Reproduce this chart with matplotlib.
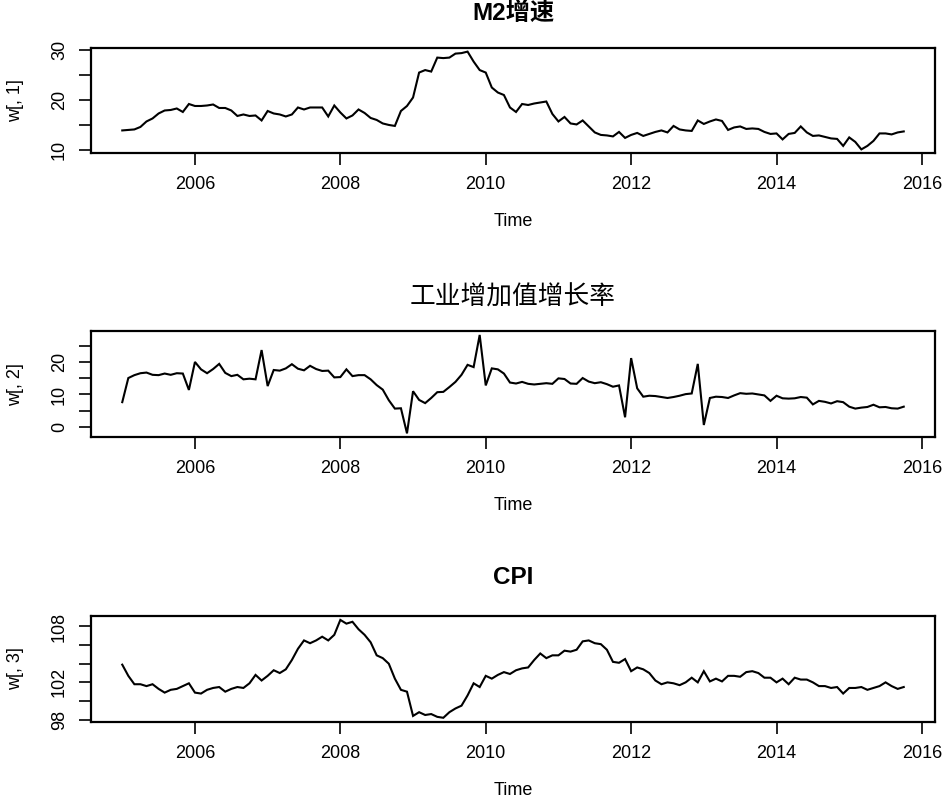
import numpy as np
import matplotlib
matplotlib.use("Agg")
import matplotlib.pyplot as plt

plt.rcParams['font.family'] = ['Liberation Sans', 'Noto Sans CJK SC', 'DejaVu Sans']

# ---- data (monthly, time axis starts 2005.0, frequency 12) ----
start_year = 2005
freq = 12

m2 = [13.9, 14.0, 14.1, 14.6, 15.7, 16.3, 17.3, 17.9, 18.0, 18.3, 17.6,
      19.2, 18.8, 18.8, 18.9, 19.1, 18.4, 18.4, 17.9, 16.8, 17.1, 16.8, 16.9,
      15.9, 17.8, 17.3, 17.1, 16.7, 17.1, 18.5, 18.1, 18.5, 18.5, 18.5, 16.7,
      18.9, 17.5, 16.3, 16.9, 18.1, 17.4, 16.4, 16.0, 15.3, 15.0, 14.8, 17.8,
      18.8, 20.5, 25.5, 26.0, 25.7, 28.5, 28.4, 28.5, 29.3, 29.4, 29.7, 27.7,
      26.0, 25.5, 22.5, 21.5, 21.0, 18.5, 17.6, 19.2, 19.0, 19.3, 19.5, 19.7,
      17.2, 15.7, 16.6, 15.3, 15.1, 15.9, 14.7, 13.5, 13.0, 12.9, 12.7, 13.6,
      12.4, 13.0, 13.4, 12.8, 13.2, 13.6, 13.9, 13.5, 14.8, 14.1, 13.9, 13.8,
      15.9, 15.2, 15.7, 16.1, 15.8, 14.0, 14.5, 14.7, 14.2, 14.3, 14.2, 13.6,
      13.2, 13.3, 12.1, 13.2, 13.4, 14.7, 13.5, 12.8, 12.9, 12.6, 12.3, 12.2,
      10.8, 12.5, 11.6, 10.1, 10.8, 11.8, 13.3, 13.3, 13.1, 13.5, 13.7]

iva = [7.6, 15.1, 16.0, 16.6, 16.8, 16.1, 16.0, 16.5, 16.1, 16.6, 16.5,
       11.4, 20.1, 17.8, 16.6, 17.9, 19.5, 16.7, 15.7, 16.1, 14.7, 14.9, 14.7,
       23.8, 12.6, 17.6, 17.4, 18.1, 19.4, 18.0, 17.5, 18.9, 17.9, 17.3, 17.4,
       15.3, 15.4, 17.8, 15.7, 16.0, 16.0, 14.7, 12.9, 11.5, 8.2, 5.6, 5.7,
       -2.1, 11.0, 8.3, 7.3, 8.9, 10.7, 10.8, 12.3, 13.9, 16.1, 19.2, 18.5,
       28.5, 12.8, 18.1, 17.8, 16.5, 13.7, 13.4, 13.9, 13.3, 13.1, 13.3, 13.5,
       13.3, 15.0, 14.8, 13.4, 13.3, 15.1, 14.0, 13.5, 13.8, 13.2, 12.4, 12.8,
       2.9, 21.3, 11.9, 9.3, 9.6, 9.5, 9.2, 8.9, 9.2, 9.6, 10.1, 10.3,
       19.5, 0.5, 8.9, 9.3, 9.2, 8.9, 9.7, 10.4, 10.2, 10.3, 10.0, 9.7,
       8.0, 9.6, 8.8, 8.7, 8.8, 9.2, 9.0, 6.9, 8.0, 7.7, 7.2, 7.9,
       7.6, 6.2, 5.6, 5.9, 6.1, 6.8, 6.0, 6.1, 5.7, 5.6, 6.2]

cpi = [103.9, 102.7, 101.8, 101.8, 101.6, 101.8, 101.3, 100.9, 101.2, 101.3, 101.6,
       101.9, 100.9, 100.8, 101.2, 101.4, 101.5, 101.0, 101.3, 101.5, 101.4, 101.9, 102.8,
       102.2, 102.7, 103.3, 103.0, 103.4, 104.4, 105.6, 106.5, 106.2, 106.5, 106.9, 106.5,
       107.1, 108.7, 108.3, 108.5, 107.7, 107.1, 106.3, 104.9, 104.6, 104.0, 102.4, 101.2,
       101.0, 98.4, 98.8, 98.5, 98.6, 98.3, 98.2, 98.8, 99.2, 99.5, 100.6, 101.9,
       101.5, 102.7, 102.4, 102.8, 103.1, 102.9, 103.3, 103.5, 103.6, 104.4, 105.1, 104.6,
       104.9, 104.9, 105.4, 105.3, 105.5, 106.4, 106.5, 106.2, 106.1, 105.5, 104.2, 104.1,
       104.5, 103.2, 103.6, 103.4, 103.0, 102.2, 101.8, 102.0, 101.9, 101.7, 102.0, 102.5,
       102.0, 103.2, 102.1, 102.4, 102.1, 102.7, 102.7, 102.6, 103.1, 103.2, 103.0, 102.5,
       102.5, 102.0, 102.4, 101.8, 102.5, 102.3, 102.3, 102.0, 101.6, 101.6, 101.4, 101.5,
       100.8, 101.4, 101.4, 101.5, 101.2, 101.4, 101.6, 102.0, 101.6, 101.3, 101.5]

titles = ["M2增速", "工业增加值增长率", "CPI"]
ylabels = ["w[, 1]", "w[, 2]", "w[, 3]"]
xticks = [2006, 2008, 2010, 2012, 2014, 2016]
yticks = [[10, 15, 20, 25, 30], [0, 5, 10, 15, 20, 25], [98, 100, 102, 104, 106, 108]]
yticklabels = [["10", "", "20", "", "30"],
               ["0", "", "10", "", "20", ""],
               ["98", "", "102", "", "", "108"]]

# ---- layout (pixel based) ----
W, H = 944, 798
fig = plt.figure(figsize=(W / 100, H / 100), dpi=100)
left_px, right_px = 91, 935
boxes = [(47.7, 153.3), (331.0, 437.3), (616.0, 721.7)]
title_y_px = [13.5, 297.0, 578.0]
title_bold = [True, False, True]
title_size = [17.5, 18.5, 17.5]

series = [np.array(m2), np.array(iva), np.array(cpi)]
n = len(m2)
t = start_year + np.arange(n) / freq

for k in range(3):
    top, bot = boxes[k]
    ax = fig.add_axes([left_px / W, 1 - bot / H, (right_px - left_px) / W, (bot - top) / H])
    y = series[k]
    ax.plot(t, y, color='black', lw=1.5, solid_joinstyle='miter')
    rx = t.max() - t.min()
    ax.set_xlim(t.min() - 0.04 * rx, t.max() + 0.04 * rx)
    ry = y.max() - y.min()
    ax.set_ylim(y.min() - 0.04 * ry, y.max() + 0.04 * ry)
    ax.set_xticks(xticks)
    ax.set_xticklabels([str(v) for v in xticks])
    ax.set_yticks(yticks[k])
    ax.set_yticklabels(yticklabels[k], rotation=90, va='center')
    ax.tick_params(direction='out', length=8.5, width=1.2, pad=8, labelsize=13, colors='black')
    for s in ax.spines.values():
        s.set_linewidth(1.6)
    h_px = bot - top
    ax.set_xlabel("Time", fontsize=13, va='center')
    ax.xaxis.set_label_coords(0.5, -68.5 / h_px)
    ax.set_ylabel(ylabels[k], fontsize=13, va='center')
    ax.yaxis.set_label_coords(-75 / (right_px - left_px), 0.5)
    ty = 1 + (top - title_y_px[k]) / h_px
    ax.set_title(titles[k], fontsize=title_size[k],
                 fontweight='bold' if title_bold[k] else 'normal',
                 y=ty, va='center', pad=0)

fig.savefig("out.png", dpi=100)
